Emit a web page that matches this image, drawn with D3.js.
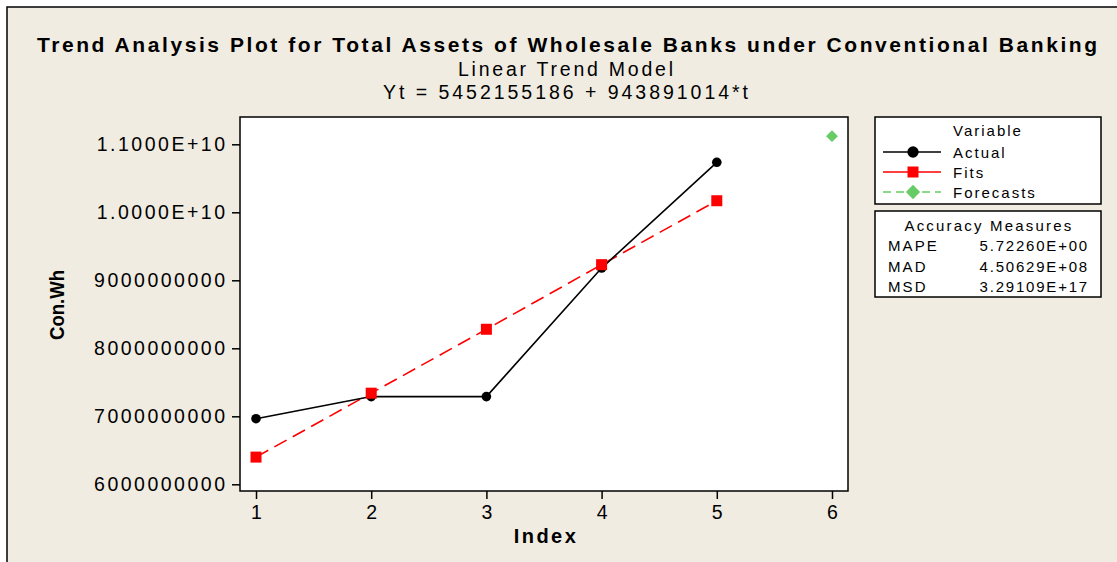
<!DOCTYPE html>
<html>
<head>
<meta charset="utf-8">
<script src="https://cdn.jsdelivr.net/npm/d3@7"></script>
<style>
  body { margin: 0; background: #fff; }
  text { font-family: "Liberation Sans", Arial, sans-serif; fill: #000; }
</style>
</head>
<body>
<div id="plot"></div>
<script>
// chart data
const index = [1, 2, 3, 4, 5];
const actual = [6.965e9, 7.29e9, 7.29e9, 9.18e9, 1.0735e10];
const fits = [6.40e9, 7.34e9, 8.28e9, 9.23e9, 1.017e10];
const forecastIndex = [6];
const forecasts = [1.112e10];
const yTicks = [6e9, 7e9, 8e9, 9e9, 1e10, 1.1e10];
const yTickLabels = ["6000000000", "7000000000", "8000000000", "9000000000", "1.0000E+10", "1.1000E+10"];
const xTicks = [1, 2, 3, 4, 5, 6];
const measureNames = ["MAPE", "MAD", "MSD"];
const measureValues = ["5.72260E+00", "4.50629E+08", "3.29109E+17"];

const width = 1117;
const height = 562;

const svg = d3.select("div#plot")
  .append("svg")
  .attr("width", width)
  .attr("height", height);

// beige frame
svg.append("rect")
  .attr("x", 7).attr("y", 7)
  .attr("width", width + 10).attr("height", height + 10)
  .attr("fill", "#f0ece2")
  .attr("stroke", "#000")
  .attr("stroke-width", 1.5);

// titles
svg.append("text")
  .attr("x", 37).attr("y", 52)
  .attr("textLength", 1060)
  .attr("lengthAdjust", "spacing")
  .style("font-size", "21px")
  .style("font-weight", "bold")
  .text("Trend Analysis Plot for Total Assets of Wholesale Banks under Conventional Banking");

svg.append("text")
  .attr("x", 458).attr("y", 76)
  .attr("textLength", 215)
  .attr("lengthAdjust", "spacing")
  .style("font-size", "19.5px")
  .text("Linear Trend Model");

svg.append("text")
  .attr("x", 383).attr("y", 98.5)
  .attr("textLength", 365)
  .attr("lengthAdjust", "spacing")
  .style("font-size", "19.5px")
  .text("Yt = 5452155186 + 943891014*t");

// plot area
const pLeft = 240, pRight = 848, pTop = 117, pBottom = 491;

svg.append("rect")
  .attr("x", pLeft).attr("y", pTop)
  .attr("width", pRight - pLeft).attr("height", pBottom - pTop)
  .attr("fill", "#fff")
  .attr("stroke", "#000")
  .attr("stroke-width", 1.5);

const x = d3.scaleLinear()
  .domain([0.861, 6.139])
  .range([pLeft, pRight]);

const y = d3.scaleLinear()
  .domain([6e9 - 0.0985e9, 1.1e10 + 0.4015e9])
  .range([pBottom, pTop]);

const yAxis = svg.append("g")
  .attr("transform", `translate(${pLeft},0)`)
  .call(d3.axisLeft(y).tickValues(yTicks).tickSize(8).tickPadding(4.5)
    .tickFormat((d, i) => yTickLabels[i]));

const xAxis = svg.append("g")
  .attr("transform", `translate(0,${pBottom})`)
  .call(d3.axisBottom(x).tickValues(xTicks).tickSize(8).tickPadding(6)
    .tickFormat(d3.format("d")));

[xAxis, yAxis].forEach(ax => {
  ax.select(".domain").remove();
  ax.selectAll(".tick line").attr("stroke", "#000").attr("stroke-width", 1.5);
  ax.selectAll(".tick text")
    .style("font-size", "19.5px")
    .style("font-family", "'Liberation Sans', Arial, sans-serif");
});
yAxis.selectAll(".tick text").style("letter-spacing", "2.5px");

svg.append("text")
  .attr("x", 546).attr("y", 543)
  .attr("text-anchor", "middle")
  .style("font-size", "20px")
  .style("font-weight", "bold")
  .style("letter-spacing", "2.5px")
  .text("Index");

svg.append("text")
  .attr("transform", "translate(64,305) rotate(-90)")
  .attr("text-anchor", "middle")
  .attr("textLength", 70)
  .attr("lengthAdjust", "spacingAndGlyphs")
  .style("font-size", "21px")
  .style("font-weight", "bold")
  .text("Con.Wh");

// lines
const line = d3.line()
  .x(d => x(d[0]))
  .y(d => y(d[1]));

svg.append("path")
  .datum(index.map((t, i) => [t, fits[i]]))
  .attr("d", line)
  .attr("fill", "none")
  .attr("stroke", "#ff0000")
  .attr("stroke-width", 1.6)
  .attr("stroke-dasharray", "14,7");

svg.append("path")
  .datum(index.map((t, i) => [t, actual[i]]))
  .attr("d", line)
  .attr("fill", "none")
  .attr("stroke", "#000")
  .attr("stroke-width", 1.6);

svg.selectAll(".actual")
  .data(index)
  .enter().append("circle")
  .attr("class", "actual")
  .attr("cx", d => x(d))
  .attr("cy", (d, i) => y(actual[i]))
  .attr("r", 4.8)
  .attr("fill", "#000");

svg.selectAll(".fit")
  .data(index)
  .enter().append("rect")
  .attr("class", "fit")
  .attr("x", d => x(d) - 5.5)
  .attr("y", (d, i) => y(fits[i]) - 5.5)
  .attr("width", 11)
  .attr("height", 11)
  .attr("fill", "#ff0000");

const diamond = d3.symbol().type(d3.symbolDiamond2).size(90);

svg.selectAll(".forecast")
  .data(forecastIndex)
  .enter().append("path")
  .attr("class", "forecast")
  .attr("d", diamond)
  .attr("transform", (d, i) => `translate(${x(d)},${y(forecasts[i])})`)
  .attr("fill", "#66cc66");

// legend
const lx = 875, lw = 226;
svg.append("rect")
  .attr("x", lx).attr("y", 117).attr("width", lw).attr("height", 87)
  .attr("fill", "#fff").attr("stroke", "#000").attr("stroke-width", 1.5);

svg.append("text")
  .attr("x", 988).attr("y", 136)
  .attr("text-anchor", "middle")
  .style("font-size", "15px").style("letter-spacing", "2px")
  .text("Variable");

const legendItems = [
  { label: "Actual", color: "#000", dash: null, shape: "circle" },
  { label: "Fits", color: "#ff0000", dash: null, shape: "square" },
  { label: "Forecasts", color: "#66cc66", dash: "8,5", shape: "diamond" }
];

const leg = svg.selectAll(".legend")
  .data(legendItems)
  .enter().append("g")
  .attr("class", "legend")
  .attr("transform", (d, i) => `translate(0, ${152 + i * 20})`);

leg.append("line")
  .attr("x1", 883).attr("x2", 941)
  .attr("stroke", d => d.color)
  .attr("stroke-width", 1.5)
  .attr("stroke-dasharray", d => d.dash);

leg.append("path")
  .attr("transform", "translate(913,0)")
  .attr("d", d => d.shape === "circle"
    ? d3.symbol().type(d3.symbolCircle).size(100)()
    : d.shape === "square"
      ? d3.symbol().type(d3.symbolSquare).size(121)()
      : d3.symbol().type(d3.symbolDiamond2).size(130)())
  .attr("fill", d => d.color);

leg.append("text")
  .attr("x", 953).attr("y", 5.5)
  .style("font-size", "15px").style("letter-spacing", "2px")
  .text(d => d.label);

svg.append("rect")
  .attr("x", lx).attr("y", 211).attr("width", lw).attr("height", 86)
  .attr("fill", "#fff").attr("stroke", "#000").attr("stroke-width", 1.5);

svg.append("text")
  .attr("x", 989).attr("y", 231)
  .attr("text-anchor", "middle")
  .style("font-size", "15px").style("letter-spacing", "2.2px")
  .text("Accuracy Measures");

const meas = svg.selectAll(".measure")
  .data(measureNames)
  .enter().append("g")
  .attr("class", "measure")
  .attr("transform", (d, i) => `translate(0, ${251 + i * 20.5})`);

meas.append("text")
  .attr("x", 888)
  .style("font-size", "15px").style("letter-spacing", "2.1px")
  .text(d => d);

meas.append("text")
  .attr("x", 1089)
  .attr("text-anchor", "end")
  .style("font-size", "15px").style("letter-spacing", "1.8px")
  .text((d, i) => measureValues[i]);
</script>
</body>
</html>
